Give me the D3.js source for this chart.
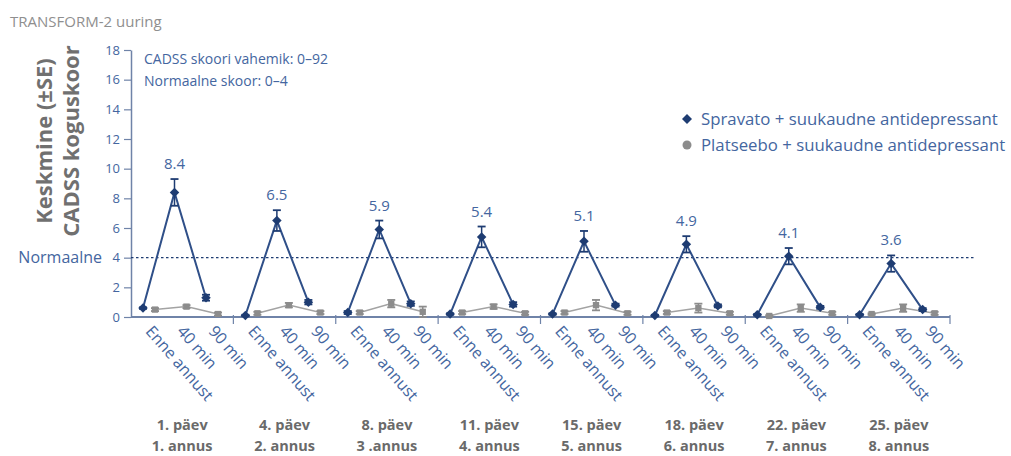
<!DOCTYPE html>
<html>
<head>
<meta charset="utf-8">
<script src="https://cdn.jsdelivr.net/npm/d3@7"></script>
<style>
  html, body { margin: 0; padding: 0; background: #ffffff; }
  svg { display: block; font-family: "Open Sans", "DejaVu Sans", sans-serif; }
</style>
</head>
<body>
<svg id="chart" width="1011" height="456"></svg>
<script>
// Visits (day / dose) and time points within each visit
const visitDays = ["1. päev", "4. päev", "8. päev", "11. päev", "15. päev", "18. päev", "22. päev", "25. päev"];
const visitDoses = ["1. annus", "2. annus", "3 .annus", "4. annus", "5. annus", "6. annus", "7. annus", "8. annus"];
const timePoints = ["Enne annust", "40 min", "90 min"];

// Mean CADSS total score, Spravato + oral antidepressant (per visit: before, 40 min, 90 min)
const spravatoMean = [
  [0.6, 8.4, 1.3],
  [0.1, 6.5, 1.0],
  [0.3, 5.9, 0.9],
  [0.2, 5.4, 0.85],
  [0.2, 5.1, 0.8],
  [0.1, 4.9, 0.75],
  [0.15, 4.1, 0.65],
  [0.15, 3.6, 0.5]
];
const spravatoSE = [
  [0.05, 0.9, 0.2],
  [0.05, 0.7, 0.15],
  [0.1, 0.6, 0.15],
  [0.05, 0.7, 0.15],
  [0.05, 0.7, 0.1],
  [0.05, 0.55, 0.1],
  [0.05, 0.55, 0.1],
  [0.05, 0.55, 0.1]
];

// Mean CADSS total score, placebo + oral antidepressant
const placeboMean = [
  [0.5, 0.7, 0.2],
  [0.25, 0.8, 0.3],
  [0.3, 0.9, 0.35],
  [0.3, 0.7, 0.25],
  [0.3, 0.8, 0.25],
  [0.3, 0.6, 0.25],
  [0.07, 0.6, 0.25],
  [0.2, 0.6, 0.25]
];
const placeboSE = [
  [0.1, 0.1, 0.1],
  [0.1, 0.15, 0.1],
  [0.1, 0.25, 0.35],
  [0.1, 0.15, 0.1],
  [0.1, 0.35, 0.1],
  [0.1, 0.3, 0.1],
  [0.05, 0.25, 0.1],
  [0.05, 0.25, 0.1]
];

const yTicks = [0, 2, 4, 6, 8, 10, 12, 14, 16, 18];
const normalLimit = 4;
const seriesNames = ["Spravato + suukaudne antidepressant", "Platseebo + suukaudne antidepressant"];

const svg = d3.select("#chart");

const navy = "#1e3c72";
const lineBlue = "#2f4f88";
const textBlue = "#4466a0";
const gray = "#8c8c8c";
const axisColor = "#6f83a8";

const y = d3.scaleLinear().domain([0, 18]).range([317, 50]);
const xGroup = d3.scaleBand().domain(d3.range(visitDays.length)).range([131, 950]).paddingInner(0).paddingOuter(0);
const xSlot = d3.scalePoint().domain(timePoints).range([18, 81]);
const seriesOffset = [-6, 6];

function xPos(g, t, s) {
  return xGroup(g) + xSlot(timePoints[t]) + seriesOffset[s];
}

// Diamond drawn as a square turned by 45 degrees
const diamond = (size) => d3.symbol().type(d3.symbolSquare).size(size)();

// Title
svg.append("text")
  .attr("x", 10).attr("y", 27)
  .attr("fill", "#8f8f8f")
  .attr("font-size", 15)
  .text("TRANSFORM-2 uuring");

// Y axis
const yAxis = d3.axisLeft(y).tickValues(yTicks).tickSize(7).tickSizeOuter(0).tickPadding(4);
const yg = svg.append("g").attr("transform", "translate(131,0)").call(yAxis);
yg.select(".domain").attr("stroke", axisColor).attr("stroke-width", 1.5);
yg.selectAll(".tick line").attr("stroke", axisColor).attr("stroke-width", 1.2);
yg.selectAll(".tick text").attr("fill", textBlue).attr("font-size", 13).attr("font-family", "Open Sans, sans-serif");

// "Normaalne" label next to the 4 tick
svg.append("text")
  .attr("x", 102).attr("y", y(normalLimit))
  .attr("dy", "0.35em")
  .attr("text-anchor", "end")
  .attr("fill", textBlue)
  .attr("font-size", 16)
  .text("Normaalne");

// Y axis title
const yTitle = svg.append("g").attr("transform", "translate(0,141) rotate(-90)");
yTitle.append("text").attr("x", 0).attr("y", 52).attr("text-anchor", "middle")
  .attr("fill", "#707070").attr("font-weight", "bold").attr("font-size", 22)
  .text("Keskmine (±SE)");
yTitle.append("text").attr("x", 0).attr("y", 79).attr("text-anchor", "middle")
  .attr("fill", "#707070").attr("font-weight", "bold").attr("font-size", 22)
  .text("CADSS koguskoor");

// Score range notes
svg.append("text").attr("x", 144).attr("y", 64).attr("fill", textBlue).attr("font-size", 14)
  .text("CADSS skoori vahemik: 0–92");
svg.append("text").attr("x", 144).attr("y", 86).attr("fill", textBlue).attr("font-size", 14)
  .text("Normaalne skoor: 0–4");

// Normal range dotted line
svg.append("line")
  .attr("x1", 131).attr("x2", 975)
  .attr("y1", y(normalLimit)).attr("y2", y(normalLimit))
  .attr("stroke", navy).attr("stroke-width", 1.2)
  .attr("stroke-dasharray", "2.5,2.5");

// X baseline with visit separators
svg.append("line")
  .attr("x1", 131).attr("x2", 950)
  .attr("y1", y(0)).attr("y2", y(0))
  .attr("stroke", axisColor).attr("stroke-width", 2);
const sepX = d3.range(1, visitDays.length + 1).map(i => i < visitDays.length ? xGroup(i) : xGroup(i - 1) + xGroup.bandwidth());
svg.selectAll(".sep").data(sepX).enter().append("line")
  .attr("x1", d => d).attr("x2", d => d)
  .attr("y1", y(0) - 2).attr("y2", y(0) + 7)
  .attr("stroke", axisColor).attr("stroke-width", 1.2);

// Time point labels (rotated)
visitDays.forEach((_, g) => {
  timePoints.forEach((tp, t) => {
    const lx = xGroup(g) + xSlot(tp);
    svg.append("text")
      .attr("transform", `translate(${lx},${y(0) + 11}) rotate(49)`)
      .attr("fill", textBlue)
      .attr("font-size", 16)
      .attr("dy", "0.35em")
      .text(tp);
  });
});

// Visit labels
visitDays.forEach((d, g) => {
  const cx = xGroup(g) + xGroup.bandwidth() / 2;
  svg.append("text").attr("x", cx).attr("y", 430).attr("text-anchor", "middle")
    .attr("fill", "#6a6a6a").attr("font-weight", "bold").attr("font-size", 14.5).text(d);
  svg.append("text").attr("x", cx).attr("y", 451).attr("text-anchor", "middle")
    .attr("fill", "#6a6a6a").attr("font-weight", "bold").attr("font-size", 14.5).text(visitDoses[g]);
});

// Series lines, error bars and markers
const line = d3.line().x(d => d.x).y(d => d.y);

function drawSeries(means, ses, s, opts) {
  means.forEach((vals, g) => {
    const pts = vals.map((v, t) => ({ x: xPos(g, t, s), y: y(v), v, se: ses[g][t] }));
    svg.append("path").datum(pts)
      .attr("d", line).attr("fill", "none")
      .attr("stroke", opts.lineColor).attr("stroke-width", opts.lineWidth);
    const eb = svg.append("g");
    pts.forEach(p => {
      eb.append("line").attr("x1", p.x).attr("x2", p.x)
        .attr("y1", y(p.v - p.se)).attr("y2", y(p.v + p.se))
        .attr("stroke", opts.markColor).attr("stroke-width", 1.5);
      [p.v - p.se, p.v + p.se].forEach(e => {
        eb.append("line").attr("x1", p.x - 4).attr("x2", p.x + 4)
          .attr("y1", y(e)).attr("y2", y(e))
          .attr("stroke", opts.markColor).attr("stroke-width", 1.8);
      });
      eb.append("path")
        .attr("transform", `translate(${p.x},${p.y}) rotate(${opts.rotate})`)
        .attr("d", d3.symbol().type(d3.symbolSquare).size(opts.size)())
        .attr("fill", opts.markColor);
    });
  });
}

drawSeries(placeboMean, placeboSE, 1, { lineColor: "#a3a3a3", lineWidth: 1.5, markColor: gray, rotate: 0, size: 40 });
drawSeries(spravatoMean, spravatoSE, 0, { lineColor: lineBlue, lineWidth: 2, markColor: navy, rotate: 45, size: 45 });

// Peak value labels
spravatoMean.forEach((vals, g) => {
  const v = vals[1];
  svg.append("text")
    .attr("x", xPos(g, 1, 0)).attr("y", y(v + spravatoSE[g][1]) - 10)
    .attr("text-anchor", "middle")
    .attr("fill", textBlue).attr("font-size", 15)
    .text(d3.format(".1f")(v));
});

// Legend
const legend = svg.append("g").attr("transform", "translate(687,119)");
legend.append("path").attr("transform", "rotate(45)").attr("d", diamond(50)).attr("fill", navy);
legend.append("text").attr("x", 14).attr("y", 0).attr("dy", "0.35em")
  .attr("fill", textBlue).attr("font-size", 16.8).text(seriesNames[0]);
legend.append("circle").attr("cx", 0).attr("cy", 26).attr("r", 4.5).attr("fill", gray);
legend.append("text").attr("x", 14).attr("y", 26).attr("dy", "0.35em")
  .attr("fill", textBlue).attr("font-size", 16.8).text(seriesNames[1]);
</script>
</body>
</html>
